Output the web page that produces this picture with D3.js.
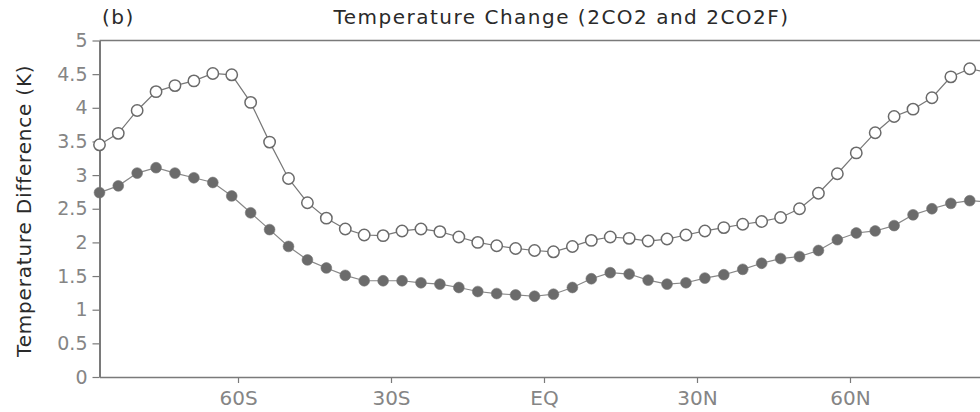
<!DOCTYPE html>
<html>
<head>
<meta charset="utf-8">
<script src="https://cdn.jsdelivr.net/npm/d3@7"></script>
<style>
  html, body { margin: 0; padding: 0; background: #fff; }
  svg { display: block; }
</style>
</head>
<body>
<svg id="chart" width="980" height="412"></svg>
<script>
// Gaussian latitudes (48-point grid), south to north
const latitudes = [
  -87.159, -83.479, -79.777, -76.070, -72.362, -68.652, -64.942, -61.232,
  -57.521, -53.810, -50.099, -46.389, -42.678, -38.967, -35.256, -31.545,
  -27.834, -24.123, -20.412, -16.701, -12.990, -9.279, -5.568, -1.856,
  1.856, 5.568, 9.279, 12.990, 16.701, 20.412, 24.123, 27.834,
  31.545, 35.256, 38.967, 42.678, 46.389, 50.099, 53.810, 57.521,
  61.232, 64.942, 68.652, 72.362, 76.070, 79.777, 83.479, 87.159
];

// Zonal-mean temperature change (K), open markers
const changeOpen = [
  3.45, 3.62, 3.96, 4.24, 4.33, 4.40, 4.51, 4.49, 4.08, 3.49, 2.95, 2.59,
  2.36, 2.20, 2.11, 2.10, 2.17, 2.20, 2.16, 2.08, 2.00, 1.95, 1.91, 1.88,
  1.86, 1.94, 2.03, 2.08, 2.06, 2.02, 2.05, 2.11, 2.17, 2.22, 2.27,
  2.31, 2.37, 2.50, 2.73, 3.02, 3.33, 3.63, 3.87, 3.98, 4.15, 4.46, 4.58, 4.52
];

// Zonal-mean temperature change (K), filled markers
const changeFilled = [
  2.74, 2.84, 3.03, 3.11, 3.03, 2.96, 2.89, 2.69, 2.44, 2.19, 1.94, 1.74,
  1.62, 1.51, 1.43, 1.43, 1.43, 1.40, 1.38, 1.33, 1.27, 1.24, 1.22, 1.20,
  1.23, 1.33, 1.46, 1.55, 1.53, 1.44, 1.38, 1.40, 1.47, 1.52, 1.60,
  1.69, 1.76, 1.79, 1.88, 2.04, 2.14, 2.17, 2.25, 2.41, 2.50, 2.58, 2.62, 2.60
];

const xTickValues = [-60, -30, 0, 30, 60];
const xTickLabels = ["60S", "30S", "EQ", "30N", "60N"];
const yTickValues = [0, 0.5, 1, 1.5, 2, 2.5, 3, 3.5, 4, 4.5, 5];
const yTickLabels = ["0", "0.5", "1", "1.5", "2", "2.5", "3", "3.5", "4", "4.5", "5"];

const titleText = "Temperature Change (2CO2 and 2CO2F)";
const panelText = "(b)";
const yLabelText = "Temperature Difference (K)";

const svg = d3.select("#chart");
const plotLeft = 99.5, plotRight = 988.5, plotTop = 40.5, plotBottom = 377;

const x = d3.scaleLinear().domain([-87.159, 87.159]).range([plotLeft, plotRight]);
const y = d3.scaleLinear().domain([0, 5]).range([plotBottom, plotTop]);

const axisColor = "#7a7a7a";
const textColor = "#858585";
const font = "'DejaVu Sans', sans-serif";

// frame: top line, bottom and left axes
svg.append("line").attr("x1", plotLeft).attr("x2", 980).attr("y1", plotTop).attr("y2", plotTop)
  .attr("stroke", axisColor).attr("stroke-width", 1.6);

const xAxis = d3.axisBottom(x)
  .tickValues(xTickValues)
  .tickFormat((d, i) => xTickLabels[i])
  .tickSizeInner(6).tickSizeOuter(0).tickPadding(5);
const gx = svg.append("g").attr("transform", `translate(0,${plotBottom})`).call(xAxis);
gx.select(".domain").attr("stroke", axisColor).attr("stroke-width", 1.6);
gx.selectAll(".tick line").attr("stroke", axisColor).attr("stroke-width", 1.2);
gx.selectAll(".tick text").attr("fill", textColor)
  .style("font-family", font).style("font-size", "20px")
  .attr("y", 9).attr("dy", "0.95em");

const yAxis = d3.axisLeft(y)
  .tickValues(yTickValues)
  .tickFormat((d, i) => yTickLabels[i])
  .tickSizeInner(7).tickSizeOuter(0).tickPadding(5);
const gy = svg.append("g").attr("transform", `translate(${plotLeft},0)`).call(yAxis);
gy.select(".domain").attr("stroke", axisColor).attr("stroke-width", 2);
gy.selectAll(".tick line").attr("stroke", axisColor).attr("stroke-width", 1.2);
gy.selectAll(".tick text").attr("fill", textColor)
  .style("font-family", font).style("font-size", "19px");

// titles
svg.append("text").attr("x", 561.5).attr("y", 24).attr("text-anchor", "middle")
  .style("font-family", font).style("font-size", "20px").style("letter-spacing", "1.5px")
  .attr("fill", "#2a2a2a").text(titleText);
svg.append("text").attr("x", 102).attr("y", 24)
  .style("font-family", font).style("font-size", "20px").style("letter-spacing", "1.5px")
  .attr("fill", "#2a2a2a").text(panelText);
svg.append("text")
  .attr("transform", `translate(31,${(plotTop + plotBottom) / 2 + 2}) rotate(-90)`)
  .attr("text-anchor", "middle")
  .style("font-family", font).style("font-size", "20px").style("letter-spacing", "0.8px")
  .attr("fill", "#2a2a2a").text(yLabelText);

// series
const line = d3.line().x(d => x(d[0])).y(d => y(d[1]));
const openPts = latitudes.map((lat, i) => [lat, changeOpen[i]]);
const filledPts = latitudes.map((lat, i) => [lat, changeFilled[i]]);

svg.append("path").datum(openPts).attr("d", line)
  .attr("fill", "none").attr("stroke", "#777").attr("stroke-width", 1.2);
svg.append("path").datum(filledPts).attr("d", line)
  .attr("fill", "none").attr("stroke", "#888").attr("stroke-width", 1.2);

svg.append("g").selectAll("circle").data(openPts).join("circle")
  .attr("cx", d => x(d[0])).attr("cy", d => y(d[1])).attr("r", 5.7)
  .attr("fill", "#fff").attr("stroke", "#6a6a6a").attr("stroke-width", 1.5);
svg.append("g").selectAll("circle").data(filledPts).join("circle")
  .attr("cx", d => x(d[0])).attr("cy", d => y(d[1])).attr("r", 5.4)
  .attr("fill", "#6b6b6b").attr("stroke", "#777").attr("stroke-width", 0.6);
</script>
</body>
</html>
